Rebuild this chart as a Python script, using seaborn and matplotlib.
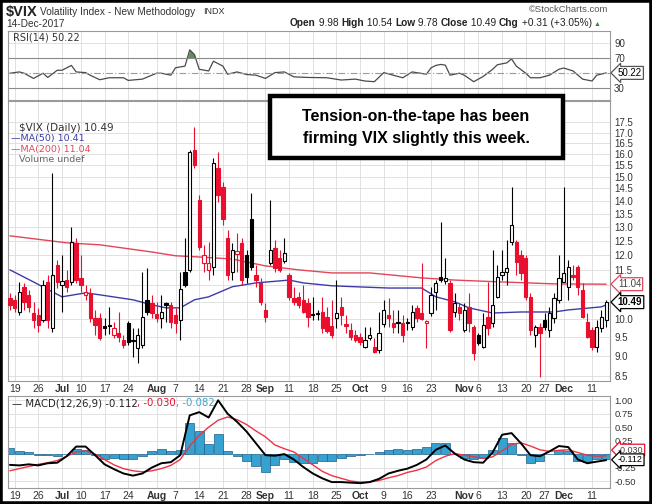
import matplotlib
matplotlib.use("Agg")
import matplotlib.pyplot as plt
import matplotlib.transforms as mtransforms
from matplotlib.patches import Rectangle
from matplotlib.text import Annotation
from matplotlib.ticker import NullLocator
import numpy as np
import pandas as pd
import seaborn as sns

# ---------------- data ----------------
first_day, last_day = "2017-06-16", "2017-12-14"
market_holidays = ["2017-07-04", "2017-09-04", "2017-11-23"]

vix_open = [10.62, 10.56, 10.20, 10.96, 10.71, 10.17, 10.11, 9.97, 11.11, 9.75,
            11.66, 11.02, 11.17, 11.11, 12.42, 11.24, 10.71, 10.77, 10.03, 10.03,
            9.80, 9.82, 9.55, 9.61, 9.42, 9.89, 9.40, 9.21, 9.29, 10.56,
            10.47, 10.14, 10.03, 10.43, 10.41, 10.11, 9.97, 11.43, 11.50, 16.18,
            14.03, 11.73, 11.50, 11.60, 15.38, 14.57, 12.59, 11.43, 12.02, 12.42,
            12.00, 13.30, 11.34, 11.08, 10.26, 11.73, 12.24, 11.90, 11.80, 11.34,
            10.62, 10.65, 10.56, 10.47, 10.13, 10.15, 10.20, 10.06, 9.80, 10.03,
            10.35, 9.85, 9.69, 9.55, 9.50, 9.23, 9.47, 9.23, 9.16, 9.86,
            10.11, 9.89, 9.90, 9.89, 9.90, 9.78, 10.32, 10.17, 9.89, 10.17,
            10.80, 11.27, 11.14, 11.08, 10.20, 10.35, 9.69, 10.35, 9.78, 9.55,
            9.23, 10.06, 9.89, 10.65, 11.34, 11.43, 12.45, 12.45, 12.00, 11.90,
            10.65, 9.55, 9.78, 9.97, 9.69, 10.03, 10.56, 11.11, 10.96, 11.34,
            11.60, 10.86, 9.92, 9.69, 9.23, 9.75, 9.98]
vix_high = [10.77, 10.71, 11.11, 11.08, 10.86, 10.50, 10.32, 11.17, 11.34, 15.16,
            11.83, 12.00, 11.50, 13.00, 12.59, 12.00, 11.02, 10.92, 10.26, 10.17,
            10.03, 10.35, 9.92, 10.20, 9.55, 9.94, 9.75, 9.75, 11.43, 11.57,
            10.71, 10.50, 10.71, 10.50, 10.50, 10.32, 11.43, 12.59, 16.18, 17.27,
            14.24, 12.35, 12.45, 15.82, 16.09, 14.78, 12.89, 12.42, 12.78, 12.59,
            12.17, 14.32, 11.66, 11.24, 10.47, 14.03, 12.52, 12.17, 12.59, 11.40,
            10.96, 10.80, 11.02, 10.62, 10.65, 10.26, 10.65, 10.35, 10.56, 11.17,
            10.65, 10.11, 9.89, 9.69, 9.61, 9.78, 9.78, 9.47, 10.20, 10.56,
            10.62, 10.26, 10.26, 10.11, 10.03, 10.41, 10.41, 11.73, 9.97, 10.96,
            11.17, 13.19, 11.90, 11.17, 10.77, 10.47, 10.47, 10.77, 9.83, 9.61,
            10.17, 11.11, 12.17, 11.66, 12.17, 12.52, 14.57, 12.52, 12.17, 12.00,
            10.77, 9.83, 9.89, 10.17, 10.35, 10.77, 12.00, 14.57, 11.83, 11.66,
            11.66, 11.08, 10.17, 9.78, 9.97, 10.26, 10.54]
vix_low = [10.26, 10.20, 10.11, 10.26, 10.20, 9.75, 9.64, 9.92, 9.75, 9.64,
           10.92, 10.20, 10.80, 11.02, 11.08, 10.80, 10.56, 9.92, 9.55, 9.42,
           9.55, 9.58, 9.47, 9.37, 9.21, 9.29, 8.97, 8.82, 9.21, 10.11,
           10.03, 9.92, 9.75, 9.92, 9.75, 9.61, 9.42, 10.96, 11.43, 15.38,
           12.17, 11.43, 11.17, 11.34, 13.95, 13.07, 11.17, 11.17, 11.43, 11.02,
           11.08, 11.50, 10.96, 10.41, 9.92, 11.66, 11.43, 11.43, 11.73, 10.56,
           10.41, 10.32, 10.17, 9.78, 9.97, 9.97, 9.61, 9.61, 9.47, 9.75,
           9.83, 9.61, 9.42, 9.37, 9.29, 9.21, 9.42, 9.08, 9.08, 9.78,
           9.78, 9.61, 9.61, 9.37, 9.69, 9.69, 9.92, 9.97, 9.21, 10.08,
           10.26, 11.11, 11.05, 9.64, 10.06, 9.97, 9.64, 9.64, 8.90, 9.29,
           9.21, 9.55, 9.78, 10.62, 11.17, 11.02, 12.35, 11.34, 11.17, 10.56,
           9.55, 9.23, 8.48, 9.69, 9.50, 9.89, 10.47, 11.11, 10.56, 11.17,
           10.71, 10.03, 9.47, 9.16, 9.10, 9.64, 9.78]
vix_close = [10.41, 10.32, 10.80, 10.50, 10.35, 9.97, 9.83, 11.02, 9.97, 11.34,
             11.11, 11.14, 10.96, 12.45, 11.17, 11.02, 10.80, 10.03, 9.83, 9.47,
             9.75, 9.79, 9.75, 9.50, 9.29, 9.37, 9.38, 9.55, 10.06, 10.20,
             10.17, 10.03, 10.20, 10.41, 9.92, 9.89, 10.89, 11.02, 16.09, 15.51,
             12.28, 12.00, 11.73, 15.60, 14.24, 13.30, 11.34, 12.17, 12.12, 11.17,
             11.27, 11.60, 11.17, 10.50, 10.06, 12.17, 11.57, 11.50, 12.07, 10.65,
             10.50, 10.41, 10.20, 10.06, 10.11, 10.13, 9.75, 9.67, 9.55, 10.17,
             10.11, 9.81, 9.50, 9.42, 9.37, 9.42, 9.55, 9.10, 9.61, 10.26,
             10.03, 9.78, 9.88, 9.55, 9.88, 10.20, 10.03, 10.01, 9.94, 10.71,
             11.08, 11.17, 11.24, 9.69, 10.47, 10.17, 10.26, 9.89, 9.08, 9.34,
             9.83, 9.75, 10.41, 11.27, 11.43, 11.57, 13.07, 11.77, 11.40, 10.65,
             9.69, 9.78, 9.61, 9.78, 10.17, 10.62, 11.24, 11.40, 11.60, 11.27,
             10.96, 10.06, 9.50, 9.23, 9.78, 10.06, 10.49]

# moving averages, read at sample days
ma200_day = [0, 12, 19, 30, 35, 40, 47, 54, 61, 68, 76, 87, 94, 104, 115, 126]
ma200_val = [12.67, 12.42, 12.35, 12.10, 11.97, 11.93, 11.86, 11.63, 11.50, 11.40,
             11.40, 11.24, 11.17, 11.11, 11.05, 11.04]
ma50_day = [0, 5, 9, 11, 16, 19, 26, 30, 33, 36, 39, 42, 47, 52, 59, 62, 68, 73,
            80, 87, 90, 94, 97, 102, 108, 115, 118, 125, 126]
ma50_val = [11.50, 11.11, 10.80, 10.65, 10.77, 10.71, 10.56, 10.41, 10.32, 10.32,
            10.56, 10.65, 10.96, 11.08, 11.17, 11.08, 10.99, 10.96, 10.92, 10.92,
            10.65, 10.50, 10.32, 10.17, 10.20, 10.20, 10.26, 10.35, 10.41]

# RSI(14)
rsi_day = [0, 2, 3, 5, 7, 8, 10, 11, 13, 14, 16, 17, 19, 21, 24, 25, 28, 31, 32, 34,
           35, 37, 38, 39, 40, 42, 43, 45, 46, 48, 50, 52, 54, 56, 58, 60, 63, 67, 70,
           73, 75, 77, 79, 81, 83, 85, 88, 89, 90, 91, 92, 93, 95, 96, 98, 100, 102,
           103, 105, 106, 107, 109, 110, 112, 114, 116, 117, 119, 121, 123, 124, 126]
rsi_val = [49.8, 51.5, 49.8, 42.9, 49.8, 44.2, 53.7, 53.7, 60.1, 51.5, 50.6, 47.0,
           41.2, 43.8, 43.8, 40.3, 42.0, 49.8, 49.8, 47.2, 57.0, 59.2, 80.7, 74.3,
           55.0, 52.8, 65.7, 59.2, 48.5, 51.5, 48.1, 47.2, 42.9, 50.6, 51.5, 45.0,
           44.2, 43.8, 40.8, 42.0, 39.5, 38.6, 50.6, 47.2, 43.8, 51.5, 48.5, 57.0,
           60.1, 61.4, 60.5, 47.2, 49.8, 47.2, 38.6, 45.5, 55.0, 61.0, 63.5, 68.7,
           59.2, 49.8, 43.8, 43.8, 47.2, 55.0, 56.7, 52.8, 42.0, 39.5, 47.2, 50.22]

# MACD(12,26,9), read every second day
macd_day = list(range(0, 127, 2))
macd_val = [-0.20, -0.21, -0.19, -0.21, -0.17, -0.16, -0.04, 0.14, 0.14, -0.02,
            -0.19, -0.28, -0.36, -0.40, -0.36, -0.25, -0.17, -0.15, -0.02, 0.72,
            0.78, 0.68, 1.00, 0.75, 0.60, 0.42, 0.20, -0.02, -0.03, 0.00,
            -0.10, -0.24, -0.36, -0.45, -0.52, -0.52, -0.53, -0.54, -0.52, -0.46,
            -0.36, -0.31, -0.27, -0.20, -0.10, 0.08, 0.16, 0.01, -0.10, -0.15,
            -0.16, 0.03, 0.36, 0.39, 0.20, -0.02, -0.04, 0.05, 0.15, 0.13,
            -0.10, -0.17, -0.14, -0.112]
signal_val = [-0.31, -0.27, -0.23, -0.19, -0.16, -0.12, -0.04, 0.04, 0.06, 0.00,
              -0.10, -0.20, -0.27, -0.31, -0.33, -0.31, -0.27, -0.21, -0.10, 0.15,
              0.35, 0.50, 0.63, 0.69, 0.64, 0.55, 0.43, 0.32, 0.17, 0.10,
              0.04, -0.08, -0.20, -0.32, -0.40, -0.45, -0.50, -0.52, -0.52, -0.49,
              -0.44, -0.40, -0.34, -0.30, -0.24, -0.12, -0.04, 0.01, -0.02, -0.05,
              -0.08, -0.05, 0.06, 0.18, 0.21, 0.15, 0.08, 0.05, 0.07, 0.08,
              0.03, -0.02, -0.04, -0.03]

tick_dates = ["2017-06-19", "2017-06-26", "2017-07-03", "2017-07-10", "2017-07-17",
              "2017-07-24", "2017-08-01", "2017-08-07", "2017-08-14", "2017-08-21",
              "2017-08-28", "2017-09-01", "2017-09-11", "2017-09-18", "2017-09-25",
              "2017-10-02", "2017-10-09", "2017-10-16", "2017-10-23", "2017-11-01",
              "2017-11-06", "2017-11-13", "2017-11-20", "2017-11-27", "2017-12-01",
              "2017-12-11"]
tick_text = ["19", "26", "Jul", "10", "17", "24", "Aug", "7", "14", "21", "28", "Sep",
             "11", "18", "25", "Oct", "9", "16", "23", "Nov", "6", "13", "20", "27",
             "Dec", "11"]
month_names = {"Jul", "Aug", "Sep", "Oct", "Nov", "Dec"}

price_ticks = [8.5, 9.0, 9.5, 10.0, 10.5, 11.0, 11.5, 12.0, 12.5, 13.0, 13.5, 14.0,
               14.5, 15.0, 15.5, 16.0, 16.5, 17.0, 17.5]
hidden_price_ticks = [10.5, 11.0]   # covered by the value tags

quote = [("Open", True), (" 9.98 ", False), ("High", True), (" 10.54 ", False),
         ("Low", True), (" 9.78 ", False), ("Close", True), (" 10.49 ", False),
         ("Chg", True), (" +0.31 (+3.05%)", False)]

# ---------------- styling ----------------
RED = "#e8102e"
MA200_COL = "#e2465a"
MA50_COL = "#3c3ca8"
HIST_COL = "#35a2d2"
GRID = "#dcdcdc"
W, H = 652, 504

sns.set_style("white")
plt.rcParams["font.family"] = ["Liberation Sans", "DejaVu Sans"]

dates = pd.bdate_range(first_day, last_day)
dates = dates[~dates.isin(pd.to_datetime(market_holidays))]
day = np.arange(len(dates))
tick_idx = [dates.get_loc(pd.Timestamp(d)) for d in tick_dates]


def box(top, bottom):
    return [8 / W, 1 - bottom / H, 602 / W, (bottom - top) / H]


def fx(x):
    return x / W


def fy(y):
    return 1 - y / H


fig = plt.figure(figsize=(W / 100, H / 100), dpi=100)
ax_rsi = fig.add_axes(box(31, 100))
ax = fig.add_axes(box(101, 381), sharex=ax_rsi)
ax_macd = fig.add_axes(box(396, 488), sharex=ax_rsi)

for a in (ax_rsi, ax, ax_macd):
    a.set_xlim(-0.4, 126.8)
    a.set_xticks(tick_idx)
    a.grid(True, color=GRID, lw=0.6)
    a.set_axisbelow(True)
    a.yaxis.tick_right()
    a.tick_params(length=0, labelsize=7, colors="#333333", pad=3)
    for s in a.spines.values():
        s.set_color("#9a9a9a")
        s.set_linewidth(0.8)

for a in (ax, ax_macd):
    a.set_xticklabels(tick_text, fontsize=7.5)
    for lab in a.get_xticklabels():
        if lab.get_text() in month_names:
            lab.set_fontweight("bold")
    a.tick_params(axis="x", pad=2)
ax_rsi.tick_params(labelbottom=False)


def tag(a, y, text, ec, tc="black", bold=False, size=7):
    trans = mtransforms.blended_transform_factory(a.transAxes, a.transData)
    a.text(1.013, y, text, transform=trans, ha="left", va="center", fontsize=size,
           color=tc, fontweight="bold" if bold else "normal", clip_on=False, zorder=10,
           bbox=dict(boxstyle="larrow,pad=0.15", fc="white", ec=ec, lw=0.9))


# ---------------- RSI panel ----------------
rsi_arr = np.array(rsi_val)
sns.lineplot(x=rsi_day, y=rsi_val, ax=ax_rsi, color="#4a4a4a", lw=0.9)
ax_rsi.fill_between(rsi_day, rsi_arr, 70, where=rsi_arr > 70, interpolate=True,
                    color="#5f8f5f", lw=0)
ax_rsi.axhline(70, color="#8a8a8a", lw=0.8)
ax_rsi.axhline(30, color="#8a8a8a", lw=0.8)
ax_rsi.axhline(50, color="#9a9a9a", lw=0.8, ls=(0, (6, 2, 1, 2)))
ax_rsi.set_ylim(14.4, 105.6)
ax_rsi.set_yticks([30, 70, 90])
ax_rsi.set_xlabel("")
ax_rsi.set_ylabel("")
ax_rsi.text(0.008, 0.9, "RSI(14) 50.22", transform=ax_rsi.transAxes, fontsize=7,
            family="DejaVu Sans", color="#333333", va="center")
tag(ax_rsi, 50.22, "50.22", "#555555")

# ---------------- price panel ----------------
o, hi, lo, c = (np.array(v) for v in (vix_open, vix_high, vix_low, vix_close))
prev = np.r_[o[0], c[:-1]]
edge = np.where(c >= prev, "black", RED)
face = np.where(c > o, "white", edge)
body_lo = np.minimum(o, c)
body_hi = np.maximum(np.maximum(o, c), body_lo * 1.004)

ax.set_yscale("log")
sns.lineplot(x=ma200_day, y=ma200_val, ax=ax, color=MA200_COL, lw=1.0, zorder=2)
sns.lineplot(x=ma50_day, y=ma50_val, ax=ax, color=MA50_COL, lw=1.0, zorder=2)
ax.vlines(day, lo, hi, colors=edge, lw=0.8, zorder=3)
ax.bar(day, body_hi - body_lo, bottom=body_lo, width=0.7, color=face,
       edgecolor=edge, lw=0.8, zorder=4)
ax.set_ylim(8.38, 18.6)
ax.set_yticks(price_ticks)
ax.set_yticklabels(["" if t in hidden_price_ticks else f"{t:.1f}" for t in price_ticks])
ax.yaxis.set_minor_locator(NullLocator())
ax.set_xlabel("")
ax.set_ylabel("")

legend_rows = [("$VIX (Daily) 10.49", "#333333", 7.5, 0.905),
               ("\u2014MA(50) 10.41", MA50_COL, 6.8, 0.865),
               ("\u2014MA(200) 11.04", MA200_COL, 6.8, 0.828),
               ("Volume undef", "#666666", 6.8, 0.792)]
for txt, col, size, yy in legend_rows:
    ax.text(0.005 if txt[0] == "\u2014" else 0.018, yy, txt, transform=ax.transAxes,
            fontsize=size, color=col, family="DejaVu Sans", va="center", zorder=6)
tag(ax, 11.04, "11.04", MA200_COL, tc="#444444")
tag(ax, 10.49, "10.49", "black", bold=True)

# ---------------- MACD panel ----------------
macd_arr = np.array(macd_val)
sig_arr = np.array(signal_val)
ax_macd.bar(macd_day, macd_arr - sig_arr, width=1.9, color=HIST_COL,
            edgecolor="#1d5f85", lw=0.5, zorder=2)
sns.lineplot(x=macd_day, y=signal_val, ax=ax_macd, color="#ee3344", lw=1.0, zorder=3)
sns.lineplot(x=macd_day, y=macd_val, ax=ax_macd, color="black", lw=1.4, zorder=4)
ax_macd.set_ylim(-0.63, 1.08)
ax_macd.set_yticks([-0.5, -0.25, 0.25, 0.5, 0.75, 1.0])
ax_macd.set_yticklabels(["-0.50", "-0.25", "0.25", "0.50", "0.75", "1.00"])
ax_macd.tick_params(axis="y", labelsize=6.8)
ax_macd.set_xlabel("")
ax_macd.set_ylabel("")
t1 = ax_macd.text(0.006, 0.865, "\u2014 MACD(12,26,9) -0.112", transform=ax_macd.transAxes,
                  fontsize=7.3, family="DejaVu Sans", color="#222222", va="bottom", zorder=6)
t2 = ax_macd.annotate(", -0.030", xycoords=t1, xy=(1, 0), va="bottom", fontsize=7.3,
                      family="DejaVu Sans", color=RED, zorder=6)
ax_macd.annotate(", -0.082", xycoords=t2, xy=(1, 0), va="bottom", fontsize=7.3,
                 family="DejaVu Sans", color=HIST_COL, zorder=6)
tag(ax_macd, 0.075, "-0.030", RED, tc="#444444", size=6.5)
tag(ax_macd, -0.105, "-0.112", "black", size=6.5)

# ---------------- header ----------------
fig.text(fx(6), fy(12), "$VIX", fontsize=10.5, fontweight="bold", va="center", color="#222222")
fig.text(fx(40), fy(12), "Volatility Index - New Methodology", fontsize=7.3, va="center",
         color="#333333")
fig.text(fx(203), fy(12), "INDX", fontsize=6.5, va="center", color="#333333")
fig.text(fx(608), fy(9), "\u00a9StockCharts.com", fontsize=6.8, va="center", ha="right",
         color="#555555")
fig.text(fx(6), fy(24), "14-Dec-2017", fontsize=7.3, va="center", color="#333333")

# quote line, each word placed right after the previous one
prev_text = fig.text(fx(290), fy(28), quote[0][0], fontsize=7.3, fontweight="bold",
                     va="bottom", color="#222222")
for word, bold in quote[1:]:
    prev_text = fig.add_artist(Annotation(word, xy=(1, 0), xycoords=prev_text, va="bottom",
                                          fontsize=7.3, color="#222222",
                                          fontweight="bold" if bold else "normal"))
fig.add_artist(Annotation(" \u25b2", xy=(1, 0), xycoords=prev_text, va="bottom",
                          fontsize=5, color="#2e8b2e"))

# ---------------- comment box ----------------
fig.add_artist(Rectangle((fx(270), fy(158)), 293 / W, 62 / H, transform=fig.transFigure,
                         fc="white", ec="black", lw=3.2, zorder=20))
fig.text(fx(416), fy(116), "Tension-on-the-tape has been", fontsize=11.5,
         fontweight="bold", ha="center", va="center", color="black", zorder=21)
fig.text(fx(416), fy(138), "firming VIX slightly this week.", fontsize=11.5,
         fontweight="bold", ha="center", va="center", color="black", zorder=21)

# screenshot frame
fig.add_artist(Rectangle((0, 0), 1, 1, transform=fig.transFigure, fill=False,
                         ec="black", lw=4, zorder=30))

fig.savefig("out.png", dpi=100)
